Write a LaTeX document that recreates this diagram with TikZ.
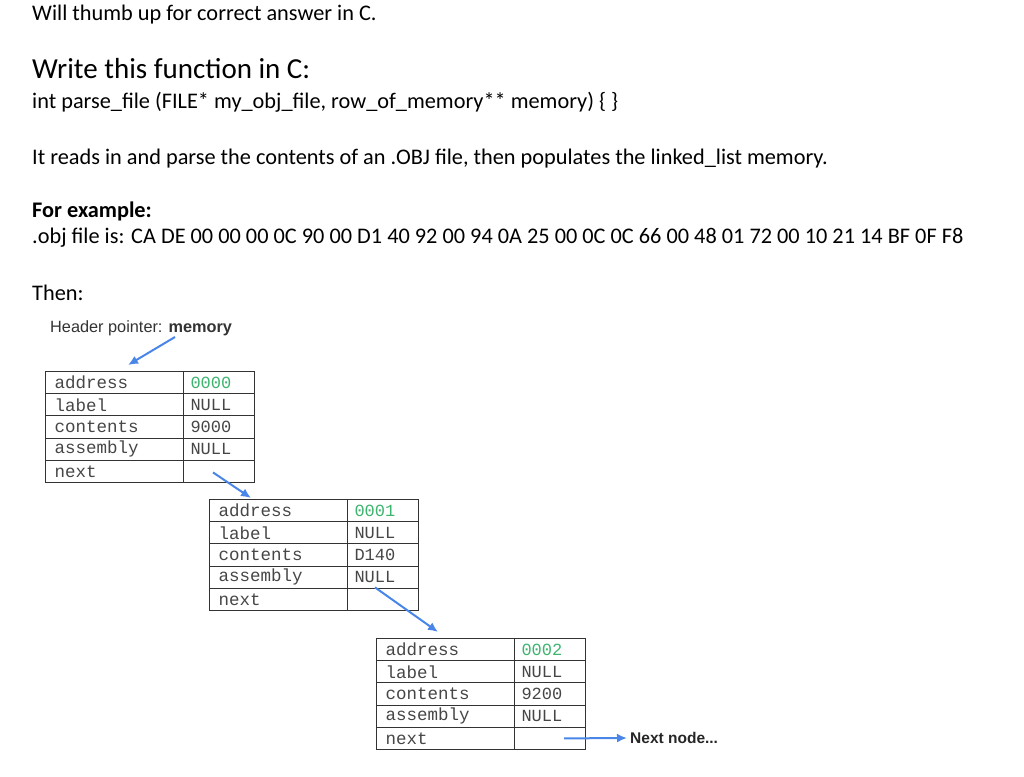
\documentclass[tikz,border=0pt]{standalone}
\usepackage{fontspec}
\usetikzlibrary{arrows.meta}
\setmainfont{Carlito}
\newfontfamily\monof{Liberation Mono}
\newfontfamily\arialf{Liberation Sans}
\definecolor{arrblue}{RGB}{74,134,232}
\definecolor{addrgreen}{RGB}{60,180,110}
\definecolor{celltext}{RGB}{70,70,70}
\begin{document}
\begin{tikzpicture}[x=1pt,y=-1pt,
  txt/.style={anchor=base west,inner sep=0pt,font=\fontsize{22.3}{24}\selectfont},
  lcell/.style={draw=black!80,line width=1pt,minimum width=138pt,minimum height=22.2pt,anchor=north west,inner xsep=9pt,inner ysep=0pt,text=celltext,font=\monof\fontsize{17.5}{18}\selectfont,align=left,text width=120pt},
  vcell/.style={draw=black!80,line width=1pt,minimum width=71pt,minimum height=22.2pt,anchor=north west,inner xsep=7pt,inner ysep=0pt,text=celltext,font=\monof\fontsize{17}{18}\selectfont,align=left,text width=57pt},
  parr/.style={draw=arrblue,line width=2pt,-{Latex[length=10pt,width=9pt]}}]
\useasboundingbox (0,0) rectangle (1024,776);
\node[txt] (t1) at (32,21) {Will thumb up for correct answer in C.};
\node[txt,font=\fontsize{29}{30}\selectfont] (t2) at (32,78) {Write this function in C:};
\node[txt] (t3) at (32,108) {int parse\_file (FILE* my\_obj\_file, row\_of\_memory** memory) \{ \}};
\node[txt] (t4) at (32,164) {It reads in and parse the contents of an .OBJ file, then populates the linked\_list memory.};
\node[txt] (t5) at (32,217) {\bfseries For example:};
\node[txt] (t6) at (32,243) {.obj file is: CA DE 00 00 00 0C 90 00 D1 40 92 00 94 0A 25 00 0C 0C 66 00 48 01 72 00 10 21 14 BF 0F F8};
\node[txt] (t7) at (32,300) {Then:};
\node[txt,font=\arialf\fontsize{16.3}{18}\selectfont,text=black!80] (hp) at (50,332) {Header pointer: \textbf{memory}};
\newcommand{\mytable}[6]{%
  \node[lcell] (#1a) at (#2,#3) {address};
  \node[vcell,text=addrgreen] (#1av) at (#2+138,#3) {#4};
  \node[lcell] (#1b) at (#2,#3+22.2) {label};
  \node[vcell] (#1bv) at (#2+138,#3+22.2) {NULL};
  \node[lcell] (#1c) at (#2,#3+44.4) {contents};
  \node[vcell] (#1cv) at (#2+138,#3+44.4) {#5};
  \node[lcell] (#1d) at (#2,#3+66.6) {assembly};
  \node[vcell] (#1dv) at (#2+138,#3+66.6) {#6};
  \node[lcell] (#1e) at (#2,#3+88.8) {next};
  \node[vcell] (#1ev) at (#2+138,#3+88.8) {};
}
\mytable{A}{45}{371}{0000}{9000}{NULL}
\mytable{B}{209}{499}{0001}{D140}{NULL}
\mytable{C}{376}{638}{0002}{9200}{NULL}
\coordinate (h1) at (175,337);
\coordinate (h2) at (128,365);
\draw[parr] (h1) -- (h2);
\draw[parr] ([xshift=-6pt,yshift=-1pt]Aev.center) -- ([xshift=-4pt,yshift=-15pt]Aev.south east);
\draw[parr] ([xshift=-8pt,yshift=12pt]Bev.center) -- ([xshift=62pt,yshift=6pt]Ca.north west);
\node[anchor=west,inner sep=0pt,font=\arialf\bfseries\fontsize{15.5}{17}\selectfont,text=black!85] (nn) at (630,738) {Next node...};
\draw[parr] ([xshift=14pt]Cev.center) -- ([xshift=-3pt]nn.west);
\end{tikzpicture}
\end{document}
